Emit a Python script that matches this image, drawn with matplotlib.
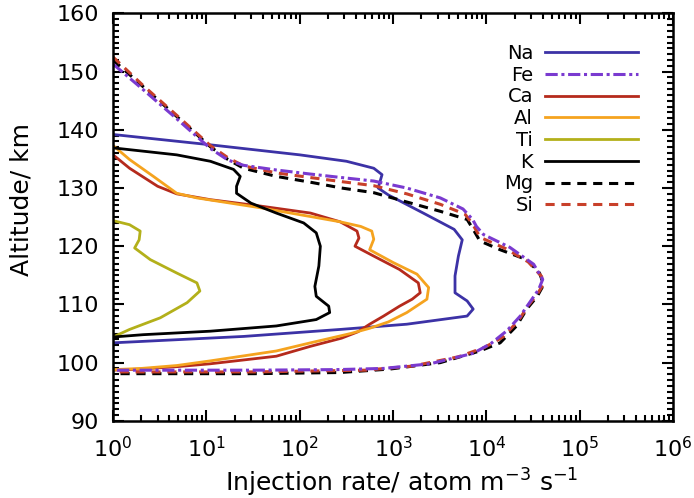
import numpy as np
import matplotlib.pyplot as plt
from matplotlib.ticker import MultipleLocator, LogLocator

# altitudes (km) and injection rates (atom m-3 s-1)
alt_na = [139.2, 137.5, 135.7, 134.6, 133.4, 132.3, 131.0, 130.0, 128.8, 125.7, 122.9, 121.1,
          118.3, 114.9, 112.0, 110.6, 109.2, 108.0, 106.6, 105.7, 104.5, 103.4]
rate_na = [1.0, 10, 100, 316, 620, 760, 720, 690, 890, 2100, 4500, 5500,
           5000, 4600, 4600, 6200, 7200, 6200, 1400, 270, 25, 1.0]

alt_fe = [151.3, 146.9, 141.9, 136.8, 134.8, 133.9, 133.1, 132.4, 131.8, 131.2, 130.0, 128.3,
          126.4, 124.6, 123.4, 122.0, 119.8, 116.9, 114.3, 112.6, 110.5, 108.0, 105.5, 103.3,
          101.6, 99.8, 99.0, 98.8, 98.7, 98.7]
rate_fe = [1.0, 2.1, 4.8, 11, 17, 25, 56, 130, 280, 620, 1400, 3200,
           5600, 7100, 7800, 9300, 17800, 32000, 40000, 36300, 29500, 23000, 16600, 11200,
           7200, 2500, 790, 250, 32, 1.0]

alt_ca = [135.7, 133.4, 130.3, 129.0, 128.0, 126.9, 125.7, 124.2, 122.6, 121.4, 120.0, 118.3,
          116.0, 113.7, 112.0, 110.9, 109.7, 108.0, 106.6, 105.3, 104.2, 102.8, 101.1, 99.8,
          99.3, 98.9, 98.7]
rate_ca = [1.0, 1.5, 3.0, 4.8, 11, 38, 130, 270, 410, 430, 390, 620,
           1170, 1860, 1950, 1600, 1170, 790, 560, 420, 280, 130, 56, 11,
           4.8, 2.0, 1.0]

alt_al = [137.3, 134.9, 132.0, 129.1, 128.3, 126.6, 125.1, 124.2, 123.4, 122.6, 121.2, 119.4,
          117.2, 115.2, 112.9, 110.9, 108.6, 107.0, 105.9, 105.0, 103.4, 102.0, 100.3, 99.5,
          99.0, 98.8]
rate_al = [1.0, 1.5, 2.7, 4.8, 7.9, 38, 130, 270, 450, 590, 620, 560,
           1000, 1800, 2400, 2300, 1400, 890, 560, 350, 130, 56, 11, 4.8,
           2.0, 1.0]

alt_ti = [124.4, 123.7, 122.6, 121.1, 119.7, 117.7, 115.4, 113.7, 112.3, 110.3, 107.7, 105.7, 104.4]
rate_ti = [1.0, 1.5, 1.95, 1.9, 1.7, 2.5, 4.8, 7.9, 8.5, 6.2, 3.2, 1.5, 1.0]

alt_k = [136.9, 135.7, 134.6, 133.2, 132.0, 130.3, 129.1, 127.4, 125.7, 124.0, 122.3, 120.0,
         116.6, 113.1, 111.4, 109.7, 108.6, 107.4, 106.3, 105.4, 104.8, 104.4]
rate_k = [1.0, 4.8, 11, 19.5, 23, 21, 21, 30, 56, 110, 150, 166,
          160, 145, 150, 204, 209, 150, 56, 11, 2.1, 1.0]

alt_mg = [152.0, 147.4, 142.3, 137.1, 134.9, 133.4, 132.0, 131.0, 130.0, 129.2, 127.6, 126.0,
          124.6, 122.9, 120.9, 119.4, 117.7, 115.4, 113.4, 111.4, 109.2, 106.3, 103.4, 102.0,
          100.0, 98.9, 98.3, 98.1, 98.1]
rate_mg = [1.0, 2.1, 4.8, 11, 17, 25, 56, 130, 280, 620, 1400, 3200,
           6200, 7200, 8500, 14000, 27000, 37000, 41000, 35000, 27000, 21000, 14000, 8500,
           3200, 930, 270, 32, 1.0]

alt_si = [152.5, 147.6, 142.5, 137.3, 135.2, 133.8, 132.6, 131.8, 131.1, 130.4, 129.0, 127.2,
          125.5, 123.8, 122.2, 121.4, 119.6, 117.3, 114.8, 113.3, 111.9, 109.8, 107.2, 104.4,
          102.6, 101.0, 99.4, 98.7, 98.4, 98.4]
rate_si = [1.0, 2.1, 4.8, 11, 17, 25, 56, 130, 280, 620, 1400, 3200,
           5900, 7100, 8100, 8900, 16000, 28000, 39000, 40000, 35500, 28000, 22000, 15000,
           9500, 5000, 1600, 500, 32, 1.0]

xticks = [1e0, 1e1, 1e2, 1e3, 1e4, 1e5, 1e6]
yticks = [90, 100, 110, 120, 130, 140, 150, 160]

fig = plt.figure(figsize=(6.94, 4.98), dpi=100)
ax = fig.add_axes([0.163, 0.155, 0.807, 0.818])

lw = 2.0
h = {}
h['Na'], = ax.plot(rate_na, alt_na, color='#3c32a6', lw=lw)
h['Ca'], = ax.plot(rate_ca, alt_ca, color='#b52a1c', lw=lw)
h['Al'], = ax.plot(rate_al, alt_al, color='#f5a31f', lw=lw)
h['Ti'], = ax.plot(rate_ti, alt_ti, color='#b3b01a', lw=lw)
h['K'], = ax.plot(rate_k, alt_k, color='black', lw=lw)
h['Mg'], = ax.plot(rate_mg, alt_mg, color='black', lw=2.2, ls=(0, (3, 2.2)))
h['Si'], = ax.plot(rate_si, alt_si, color='#c8402a', lw=2.2, ls=(0, (3, 2.2)))
h['Fe'], = ax.plot(rate_fe, alt_fe, color='#7a3ad0', lw=2.2, ls=(0, (4, 1.2, 1, 1.2)))

ax.set_xscale('log')
ax.set_xlim(1, 1e6)
ax.set_ylim(90, 160)
ax.set_xticks(xticks)
ax.set_yticks(yticks)
ax.yaxis.set_minor_locator(MultipleLocator(1))
ax.xaxis.set_minor_locator(LogLocator(base=10, subs=np.arange(2, 10), numticks=20))
ax.tick_params(which='both', direction='in', top=True, right=True, width=1.5)
ax.tick_params(which='major', length=8)
ax.tick_params(which='minor', length=4)
ax.tick_params(axis='x', pad=11, labelsize=16)
ax.tick_params(axis='y', pad=10, labelsize=16)
for s in ax.spines.values():
    s.set_linewidth(1.8)

ax.set_xlabel('Injection rate/ atom m$^{-3}$ s$^{-1}$', fontsize=18)
ax.set_ylabel('Altitude/ km', fontsize=18)
ax.xaxis.set_label_coords(0.516, -0.112)
ax.yaxis.set_label_coords(-0.143, 0.543)

names = ['Na', 'Fe', 'Ca', 'Al', 'Ti', 'K', 'Mg', 'Si']
ax.legend([h[n] for n in names], names, loc='upper right', frameon=False,
          markerfirst=False, fontsize=14, handlelength=4.8, handletextpad=0.6,
          labelspacing=0.14, borderpad=0, borderaxespad=0,
          bbox_to_anchor=(0.9375, 0.925))

fig.savefig('out.png', dpi=100)
